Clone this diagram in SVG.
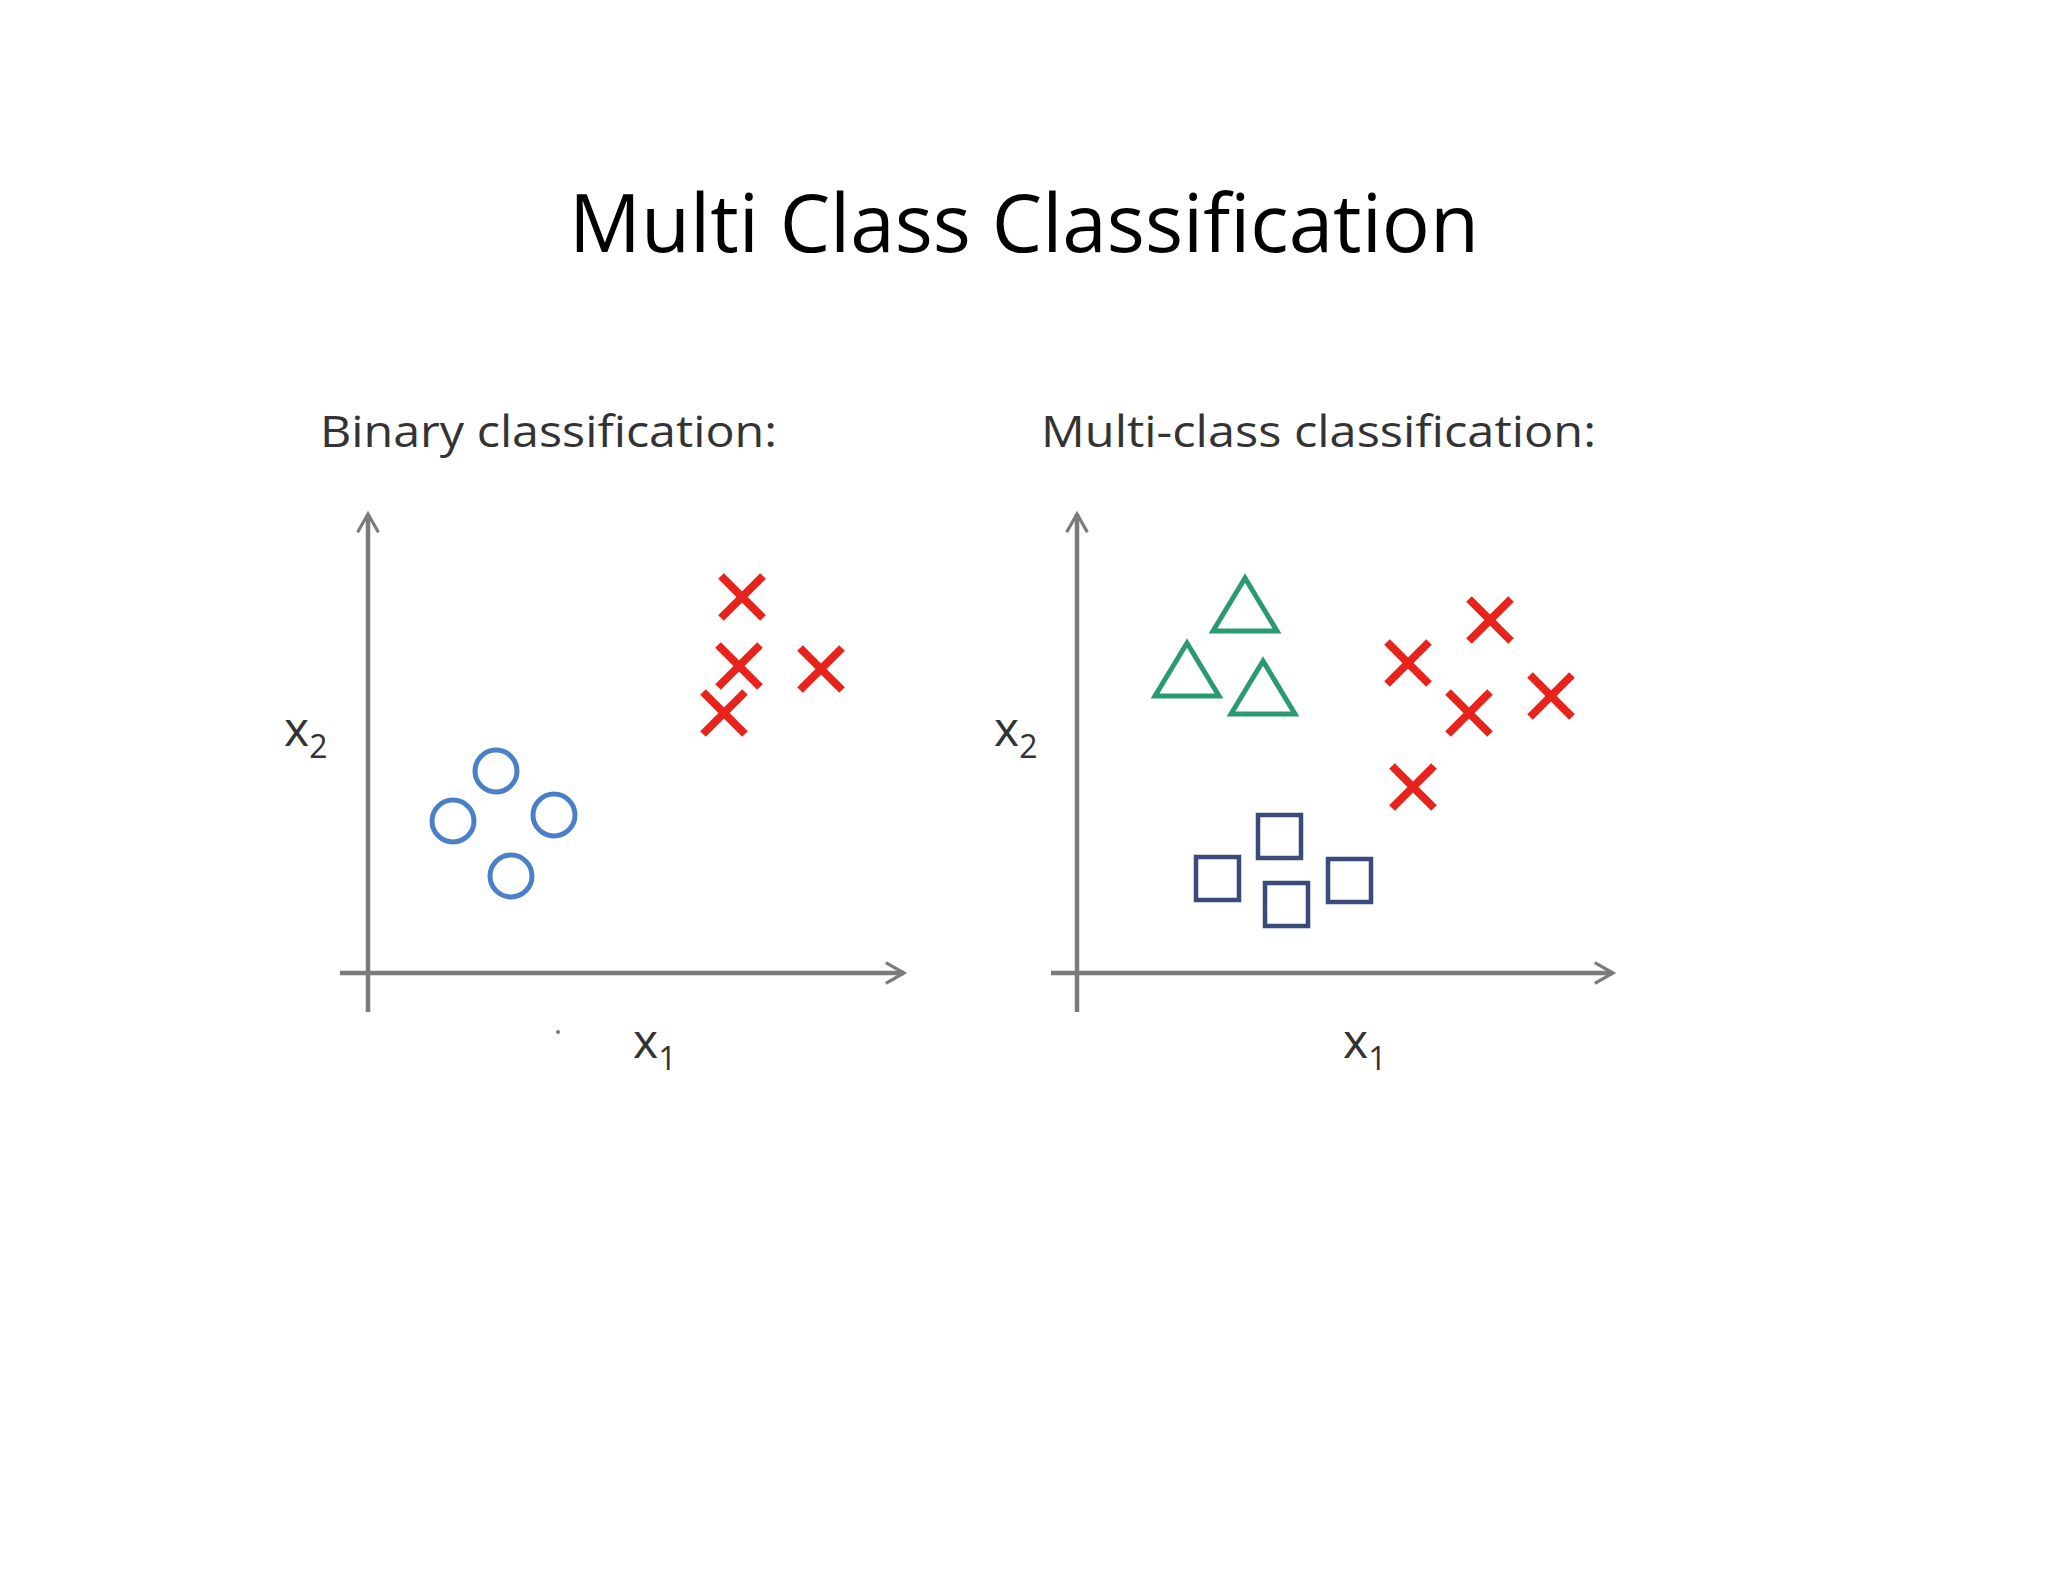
<svg xmlns="http://www.w3.org/2000/svg" width="2048" height="1582" viewBox="0 0 2048 1582">
<defs>
<style>
.ax{stroke:#7b7b7b;stroke-width:4.5;fill:none}
.x{stroke:#e8231c;stroke-width:8;stroke-linecap:butt}
.c{fill:none;stroke:#4a80c8;stroke-width:5}
.t{fill:none;stroke:#2a9a70;stroke-width:5;stroke-linejoin:miter}
.s{fill:none;stroke:#3b4a78;stroke-width:4.5}
.lbl{font-family:"Open Sans","Liberation Sans",sans-serif;fill:#333}
</style>
<marker id="ah" viewBox="0 0 20 20" refX="17" refY="10" markerWidth="26" markerHeight="26" markerUnits="userSpaceOnUse" orient="auto"><path d="M3,2 L17,10 L3,18" fill="none" stroke="#7b7b7b" stroke-width="2.5"/></marker>
<g id="xm"><line class="x" x1="-21" y1="-21" x2="21" y2="21"/><line class="x" x1="-21" y1="21" x2="21" y2="-21"/></g>
</defs>
<rect width="2048" height="1582" fill="#fff"/>
<text x="1024" y="252" text-anchor="middle" font-family="Open Sans, Liberation Sans, sans-serif" font-size="80" fill="#000">Multi Class Classification</text>
<g id="connectors">
<line class="ax" x1="368" y1="1012" x2="368" y2="514" marker-end="url(#ah)"/>
<line class="ax" x1="340" y1="973" x2="904" y2="973" marker-end="url(#ah)"/>
<line class="ax" x1="1077" y1="1012" x2="1077" y2="514" marker-end="url(#ah)"/>
<line class="ax" x1="1051" y1="973" x2="1613" y2="973" marker-end="url(#ah)"/>
</g>
<g id="left">
<text class="lbl" x="320" y="447" font-size="44" textLength="457" lengthAdjust="spacingAndGlyphs">Binary classification:</text>
<text class="lbl" x="284" y="746" font-size="48">x<tspan font-size="32" dy="12">2</tspan></text>
<text class="lbl" x="633" y="1058" font-size="48">x<tspan font-size="32" dy="12">1</tspan></text>
<circle class="c" cx="496" cy="771" r="21"/>
<circle class="c" cx="453" cy="821" r="21"/>
<circle class="c" cx="554" cy="815" r="21"/>
<circle class="c" cx="511" cy="876" r="21"/>
<use href="#xm" x="742" y="597"/>
<use href="#xm" x="739" y="666"/>
<use href="#xm" x="821" y="669"/>
<use href="#xm" x="724" y="713"/>
<circle cx="558" cy="1032" r="2" fill="#777"/>
</g>
<g id="right">
<text class="lbl" x="1041" y="447" font-size="44" textLength="555" lengthAdjust="spacingAndGlyphs">Multi-class classification:</text>
<text class="lbl" x="994" y="746" font-size="48">x<tspan font-size="32" dy="12">2</tspan></text>
<text class="lbl" x="1343" y="1058" font-size="48">x<tspan font-size="32" dy="12">1</tspan></text>
<path class="t" d="M1245,578 L1277,631 L1213,631 Z"/>
<path class="t" d="M1187,643 L1219,696 L1155,696 Z"/>
<path class="t" d="M1263,661 L1295,714 L1231,714 Z"/>
<rect class="s" x="1258" y="815" width="43" height="43"/>
<rect class="s" x="1196" y="857" width="43" height="43"/>
<rect class="s" x="1265" y="883" width="43" height="43"/>
<rect class="s" x="1328" y="859" width="43" height="43"/>
<use href="#xm" x="1490" y="620"/>
<use href="#xm" x="1408" y="663"/>
<use href="#xm" x="1469" y="713"/>
<use href="#xm" x="1551" y="696"/>
<use href="#xm" x="1413" y="787"/>
</g>
</svg>
